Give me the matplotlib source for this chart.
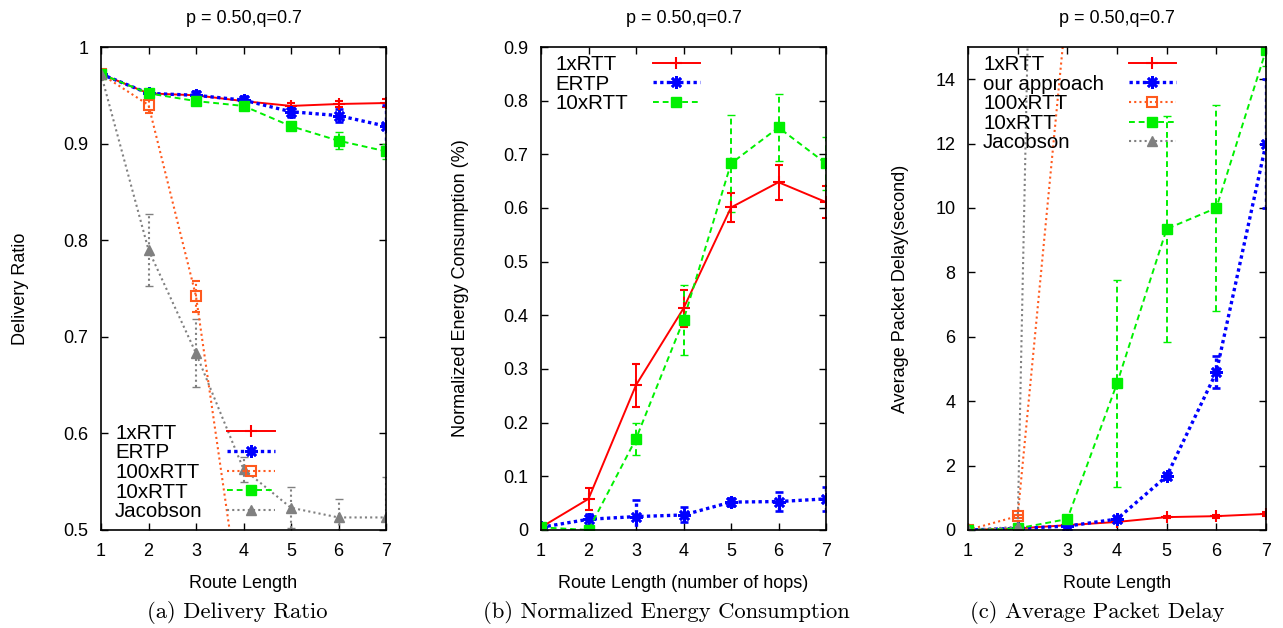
import numpy as np
import matplotlib.pyplot as plt
from matplotlib.lines import Line2D

# ---- data -------------------------------------------------------------
hops = [1, 2, 3, 4, 5, 6, 7]

# (a) delivery ratio
dr_1x = [0.972, 0.952, 0.950, 0.944, 0.939, 0.941, 0.942]
dr_1x_err = [0.002, 0.003, 0.003, 0.003, 0.003, 0.003, 0.004]
dr_ertp = [0.972, 0.952, 0.950, 0.945, 0.933, 0.929, 0.918]
dr_ertp_err = [0.002, 0.004, 0.004, 0.004, 0.005, 0.007, 0.022]
dr_100x = [0.972, 0.940, 0.742, 0.40, 0.30, 0.25, 0.25]
dr_100x_err = [0.002, 0.008, 0.016, 0.02, 0.02, 0.02, 0.02]
dr_10x = [0.972, 0.952, 0.944, 0.939, 0.918, 0.903, 0.892]
dr_10x_err = [0.002, 0.003, 0.003, 0.004, 0.004, 0.009, 0.008]
dr_jac = [0.972, 0.790, 0.683, 0.563, 0.523, 0.513, 0.513]
dr_jac_err = [0.002, 0.037, 0.035, 0.013, 0.021, 0.019, 0.042]

# (b) normalized energy consumption
en_1x = [0.005, 0.058, 0.270, 0.413, 0.601, 0.648, 0.611]
en_1x_err = [0.002, 0.020, 0.040, 0.035, 0.027, 0.033, 0.030]
en_ertp = [0.005, 0.020, 0.025, 0.028, 0.052, 0.053, 0.058]
en_ertp_err = [0.002, 0.010, 0.030, 0.014, 0.008, 0.018, 0.022]
en_10x = [0.005, 0.000, 0.170, 0.391, 0.683, 0.750, 0.683]
en_10x_err = [0.002, 0.002, 0.030, 0.065, 0.090, 0.063, 0.050]

# (c) average packet delay
pd_1x = [0.0, 0.05, 0.15, 0.25, 0.40, 0.43, 0.50]
pd_1x_err = [0.0, 0.02, 0.03, 0.03, 0.04, 0.05, 0.05]
pd_ertp = [0.0, 0.05, 0.12, 0.34, 1.67, 4.90, 12.0]
pd_ertp_err = [0.0, 0.02, 0.03, 0.06, 0.10, 0.50, 2.0]
pd_100x = [0.0, 0.43, 16.5, 30.0, 40.0, 45.0, 50.0]
pd_100x_err = [0.0, 0.05, 1.0, 1.0, 1.0, 1.0, 1.0]
pd_10x = [0.0, 0.05, 0.34, 4.55, 9.35, 10.0, 14.9]
pd_10x_err = [0.0, 0.02, 0.05, 3.2, 3.5, 3.2, 0.5]
pd_jac = [0.0, 0.10, 75.0, 90.0, 100.0, 105.0, 110.0]
pd_jac_err = [0.0, 0.02, 1.0, 1.0, 1.0, 1.0, 1.0]

title = "p = 0.50,q=0.7"
captions = ["(a) Delivery Ratio", "(b) Normalized Energy Consumption",
            "(c) Average Packet Delay"]

# ---- styles -----------------------------------------------------------
plt.rcParams["font.family"] = ["Liberation Sans", "DejaVu Sans"]
plt.rcParams["font.size"] = 13

RED = "#ff0000"
BLUE = "#0000ff"
ORANGE = "#ff5a1e"
GREEN = "#00f000"
GRAY = "#808080"

sty = {
    "1x": dict(color=RED, ls="-", lw=1.4, marker="+", ms=9, mew=1.5),
    "ertp": dict(color=BLUE, ls=(0, (1, 1)), lw=2.4, marker=(8, 2, 0), ms=9, mew=1.9),
    "100x": dict(color=ORANGE, ls=(0, (1, 1.5)), lw=1.5, marker="s", ms=7,
                 mfc="none", mew=1.5),
    "10x": dict(color=GREEN, ls=(0, (3, 2)), lw=1.4, marker="s", ms=7),
    "jac": dict(color=GRAY, ls=(0, (1, 1.5)), lw=1.5, marker="^", ms=7),
}


def series(ax, y, err, key, label):
    s = sty[key]
    eb = ax.errorbar(hops, y, yerr=err, color=s["color"], ls=s["ls"], lw=s["lw"],
                     marker=s["marker"], ms=s["ms"], mew=s.get("mew", 1),
                     mfc=s.get("mfc", s["color"]), mec=s["color"],
                     elinewidth=s["lw"], capsize=3, capthick=s["lw"])
    for lc in eb.lines[2]:
        lc.set_linestyle(s["ls"])
    # legend proxy without error bars
    ax.add_line(Line2D([], [], color=s["color"], ls=s["ls"], lw=s["lw"],
                       marker=s["marker"], ms=s["ms"], mew=s.get("mew", 1),
                       mfc=s.get("mfc", s["color"]), mec=s["color"], label=label))


def legend(ax, loc, anchor):
    leg = ax.legend(loc=loc, bbox_to_anchor=anchor, borderaxespad=0,
                    markerfirst=False, fancybox=False, framealpha=0,
                    fontsize=14.8, handlelength=2.3, handletextpad=1.2,
                    labelspacing=0.03, borderpad=0.15)
    fr = leg.get_frame()
    fr.set_edgecolor(BLUE)
    fr.set_linestyle((0, (1, 1.5)))
    fr.set_linewidth(1.0)
    return leg


def left_align(fig, leg):
    # make labels flush left, handles flush right (gnuplot style key)
    r = fig.canvas.get_renderer()
    rows = []
    for col in leg._legend_handle_box.get_children():
        rows += col.get_children()
    widths = [row.get_children()[0].get_window_extent(r).width for row in rows]
    wmax = max(widths)
    for row, w in zip(rows, widths):
        row.sep = row.sep + (wmax - w) * 72.0 / fig.dpi


fig = plt.figure(figsize=(12.83, 6.28), dpi=100)
W, H = 1283.0, 628.0
boxes = [(101, 386), (541, 826), (968, 1266)]
top, bot = 47, 530
axes = []
for l, r in boxes:
    axes.append(fig.add_axes([l / W, (H - bot) / H, (r - l) / W, (bot - top) / H]))

# (a)
ax = axes[0]
series(ax, dr_1x, dr_1x_err, "1x", "1xRTT")
series(ax, dr_ertp, dr_ertp_err, "ertp", "ERTP")
series(ax, dr_100x, dr_100x_err, "100x", "100xRTT")
series(ax, dr_10x, dr_10x_err, "10x", "10xRTT")
series(ax, dr_jac, dr_jac_err, "jac", "Jacobson")
ax.set_ylim(0.5, 1.0)
ax.set_yticks([0.5, 0.6, 0.7, 0.8, 0.9, 1.0])
ax.set_ylabel("Delivery Ratio", labelpad=25)
ax.set_xlabel("Route Length")
leg_a = legend(ax, "lower left", (0.039, 0.012))

# (b)
ax = axes[1]
series(ax, en_1x, en_1x_err, "1x", "1xRTT")
series(ax, en_ertp, en_ertp_err, "ertp", "ERTP")
series(ax, en_10x, en_10x_err, "10x", "10xRTT")
ax.set_ylim(0, 0.9)
ax.set_yticks(np.arange(0, 0.91, 0.1))
ax.set_ylabel("Normalized Energy Consumption (%)", labelpad=25)
ax.set_xlabel("Route Length (number of hops)")
leg_b = legend(ax, "upper left", (0.039, 0.99))

# (c)
ax = axes[2]
series(ax, pd_1x, pd_1x_err, "1x", "1xRTT")
series(ax, pd_ertp, pd_ertp_err, "ertp", "our approach")
series(ax, pd_100x, pd_100x_err, "100x", "100xRTT")
series(ax, pd_10x, pd_10x_err, "10x", "10xRTT")
series(ax, pd_jac, pd_jac_err, "jac", "Jacobson")
ax.set_ylim(0, 15)
ax.set_yticks(range(0, 15, 2))
ax.set_ylabel("Average Packet Delay(second)", labelpad=19)
ax.set_xlabel("Route Length")
leg_c = legend(ax, "upper left", (0.04, 0.99))

for ax in axes:
    ax.set_xlim(1, 7)
    ax.set_xticks(hops)
    ax.yaxis.set_major_formatter(plt.FormatStrFormatter("%g"))
    ax.tick_params(direction="in", top=True, right=True, length=5, width=1,
                   labelsize=13, pad=9)
    for sp in ax.spines.values():
        sp.set_linewidth(1.2)
    ax.set_title(title, fontsize=13, pad=17)
    ax.xaxis.labelpad = 11

# sub-figure captions (centred on each sub-figure incl. its y label)
cap_x = [237, 666, 1097]
for cx, cap in zip(cap_x, captions):
    fig.text(cx / W, 1 - 613 / H, cap, ha="center", va="center",
             fontsize=16.3, family=["cmr10", "DejaVu Serif"])

fig.canvas.draw()
for lg in (leg_a, leg_b, leg_c):
    left_align(fig, lg)

fig.savefig("out.png", dpi=100)
